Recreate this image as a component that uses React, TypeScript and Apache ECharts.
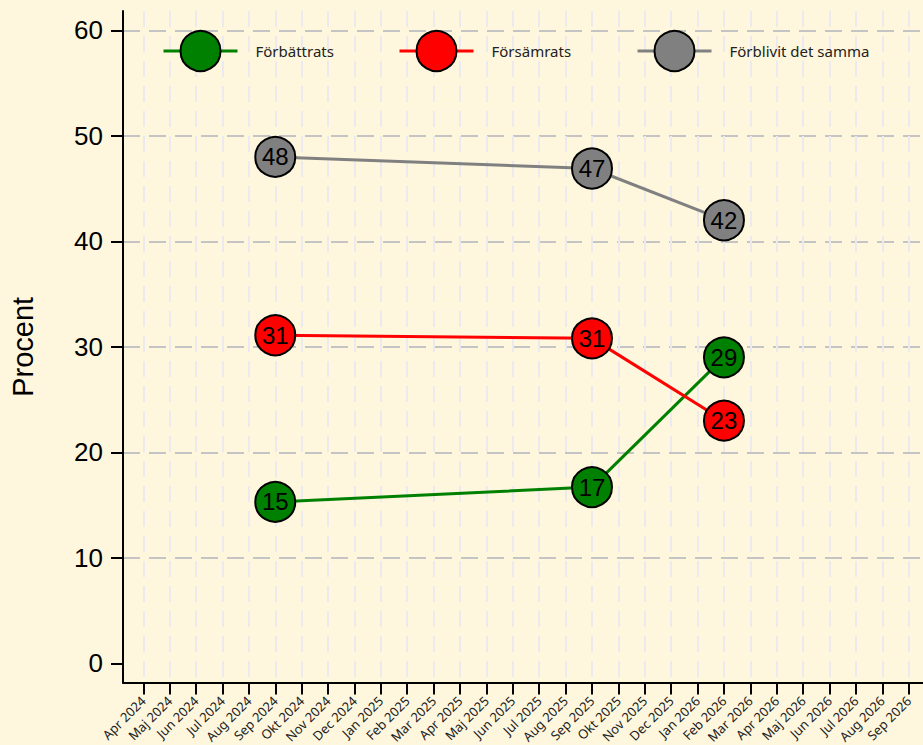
import React, { useEffect, useRef } from "react";
import * as echarts from "echarts";

const monthLabels = [
  "Apr 2024", "Maj 2024", "Jun 2024", "Jul 2024", "Aug 2024", "Sep 2024", "Okt 2024", "Nov 2024", "Dec 2024",
  "Jan 2025", "Feb 2025", "Mar 2025", "Apr 2025", "Maj 2025", "Jun 2025", "Jul 2025", "Aug 2025", "Sep 2025",
  "Okt 2025", "Nov 2025", "Dec 2025", "Jan 2026", "Feb 2026", "Mar 2026", "Apr 2026", "Maj 2026", "Jun 2026",
  "Jul 2026", "Aug 2026", "Sep 2026",
];
// survey months (index into monthLabels)
const surveyMonths = [5, 17, 22];
const seriesNames = ["Förbättrats", "Försämrats", "Förblivit det samma"];
const improved = [15.3, 16.7, 29.0];
const worsened = [31.1, 30.8, 23.0];
const unchanged = [48.0, 46.9, 42.0];
const seriesColors = ["#008000", "#ff0000", "#808080"];
const yTicks = { min: 0, max: 60, step: 10 };

export default function App() {
  const ref = useRef<HTMLDivElement>(null);
  useEffect(() => {
    document.body.style.margin = "0";
    const chart = echarts.init(ref.current!, null, { renderer: "svg" });
    const values = [improved, worsened, unchanged];
    const legendLefts = [162, 398, 636];
    const option: any = {
      animation: false,
      backgroundColor: "#fef7de",
      grid: [
        { left: 123, right: 0, top: 11, bottom: 62.5, outerBoundsMode: "none" },
        { left: 123, right: 0, top: 30.3, bottom: 81.7, outerBoundsMode: "none" },
        { left: 143.3, right: 14.3, top: 11, bottom: 62.5, outerBoundsMode: "none" },
      ],
      legend: seriesNames.map((n, i) => ({
        data: [n],
        left: legendLefts[i],
        top: 30,
        padding: 0,
        itemWidth: 74,
        itemHeight: 50,
        lineStyle: { width: 3 },
        textStyle: { fontSize: 15, color: "#222", fontFamily: "Noto Sans", padding: [0, 0, 0, 13] },
      })),
      xAxis: [
        {
          gridIndex: 0, type: "value", min: 0, max: 1,
          axisLine: { show: true, onZero: false, lineStyle: { color: "#000", width: 2 } },
          axisTick: { show: false }, axisLabel: { show: false }, splitLine: { show: false },
        },
        {
          gridIndex: 1, type: "value", min: 0, max: 1, show: false,
        },
        {
          gridIndex: 2, type: "value", min: 0, max: monthLabels.length - 1, interval: 1,
          axisLine: { show: false, onZero: false },
          axisTick: { show: true, length: 12, lineStyle: { color: "#000", width: 2 } },
          axisLabel: {
            rotate: 45, fontSize: 13, color: "#222", fontFamily: "Noto Sans", margin: 16,
            hideOverlap: false,
            formatter: (v: number) => monthLabels[Math.round(v)] ?? "",
          },
          splitLine: { show: true, lineStyle: { color: "#eaeaf0", width: 2, type: [16, 9] } },
        },
      ],
      yAxis: [
        {
          gridIndex: 0, type: "value", min: 0, max: 1,
          axisLine: { show: true, onZero: false, lineStyle: { color: "#000", width: 2 } },
          axisTick: { show: false }, axisLabel: { show: false }, splitLine: { show: false },
        },
        {
          gridIndex: 1, type: "value", min: yTicks.min, max: yTicks.max, interval: yTicks.step,
          axisLine: { show: false, onZero: false },
          axisTick: { show: true, length: 12, lineStyle: { color: "#000", width: 2 } },
          axisLabel: { fontSize: 26, color: "#000", fontFamily: "Liberation Sans", margin: 20 },
          splitLine: {
            show: true, showMinLine: false,
            lineStyle: { color: "#c4c4c4", width: 2, type: [17, 9] },
          },
          name: "Procent", nameLocation: "middle", nameGap: 86,
          nameTextStyle: { fontSize: 29, color: "#000", fontFamily: "Liberation Sans" },
        },
        {
          gridIndex: 2, type: "value", min: -1.82, max: 61.83, show: false,
        },
      ],
      series: seriesNames.map((n, i) => ({
        name: n,
        type: "line",
        xAxisIndex: 2,
        yAxisIndex: 2,
        data: surveyMonths.map((m, j) => [m, values[i][j]]),
        symbol: "circle",
        symbolSize: 40,
        itemStyle: { color: seriesColors[i], borderColor: "#000", borderWidth: 2 },
        lineStyle: { color: seriesColors[i], width: 3 },
        label: {
          show: true, position: "inside", fontSize: 24, color: "#000", fontFamily: "Liberation Sans",
          formatter: (p: any) => String(Math.round(p.value[1])),
        },
      })),
    };
    chart.setOption(option);
    return () => chart.dispose();
  }, []);
  return <div ref={ref} style={{ width: 923, height: 745 }} />;
}
